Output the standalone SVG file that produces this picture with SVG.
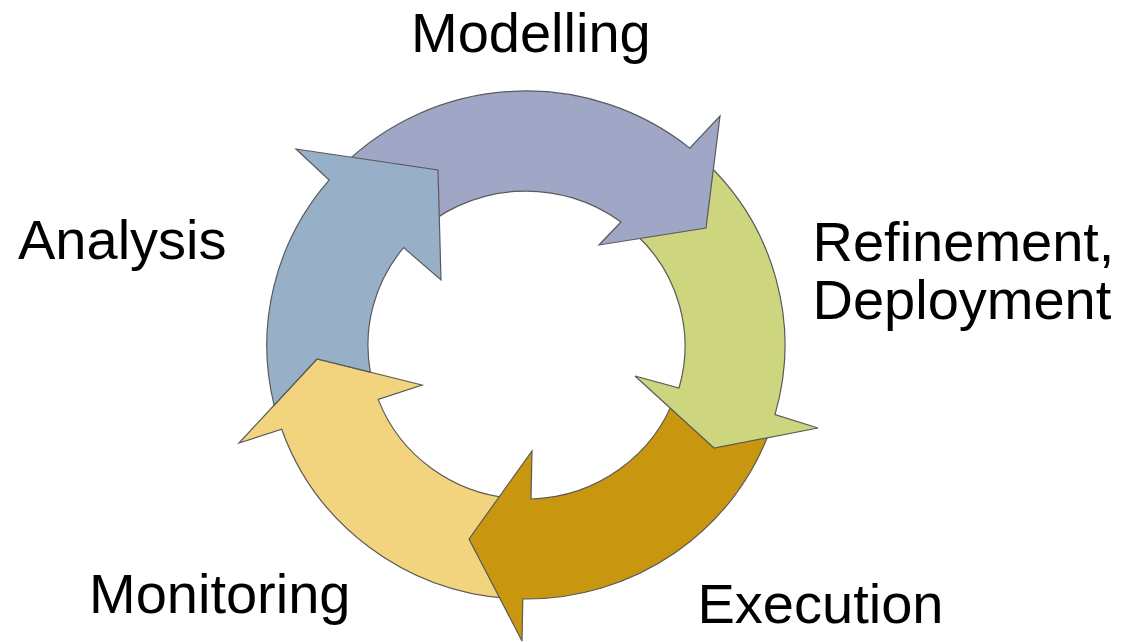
<svg xmlns="http://www.w3.org/2000/svg" width="1124" height="642" viewBox="0 0 1124 642">
<style>
.arrow{stroke:#5a5a5a;stroke-width:1.2;stroke-linejoin:miter}
.lbl{font-family:"Liberation Sans",Arial,sans-serif;font-size:56px;fill:#000}
</style>
<rect x="0" y="0" width="1124" height="642" fill="#ffffff"/>
<g id="connectors">
<g id="node-monitoring-arrow">
<path class="arrow" fill="#F2D47E" d="M 507.9 598.4 A 259 254 0 0 1 281.7 429.2 L 239 443 L 317 359 L 422 385 L 378.2 399.4 A 158 154 0 0 0 515 498.6 Z"/>
</g>
<g id="node-execution-arrow">
<path class="arrow" fill="#C8960F" d="M 770.9 427.7 A 259 254 0 0 1 522.8 599 L 522 641 L 469 539 L 532 451 L 531 499 A 158 154 0 0 0 675.4 395.1 Z"/>
</g>
<g id="node-refinement-arrow">
<path class="arrow" fill="#CDD57E" d="M 705.9 162.3 A 259 254 0 0 1 775 414.6 L 818 428 L 714 448 L 635 376 L 679 388 A 158 154 0 0 0 635.8 234.2 Z"/>
</g>
<g id="node-modelling-arrow">
<path class="arrow" fill="#9FA6C6" d="M 342.9 165.4 A 259 254 0 0 1 689.7 148.1 L 720 116 L 706 228 L 599 245 L 621 222 A 158 154 0 0 0 414.3 236.1 Z"/>
</g>
<g id="node-analysis-arrow">
<path class="arrow" fill="#98AFC8" d="M 274.1 405.2 A 259 254 0 0 1 329.1 180.1 L 296 149 L 438 170 L 441 280 L 403.6 247.6 A 158 154 0 0 0 370.4 372.2 L 317 359 Z"/>
</g>
</g>
<g id="node-modelling"><text class="lbl" x="411" y="52">Modelling</text></g>
<g id="node-refinement"><text class="lbl" x="812.5" y="261">Refinement,</text><text class="lbl" x="812.5" y="319">Deployment</text></g>
<g id="node-execution"><text class="lbl" x="697.5" y="623">Execution</text></g>
<g id="node-monitoring"><text class="lbl" x="89" y="613">Monitoring</text></g>
<g id="node-analysis"><text class="lbl" x="18" y="259">Analysis</text></g>
</svg>
